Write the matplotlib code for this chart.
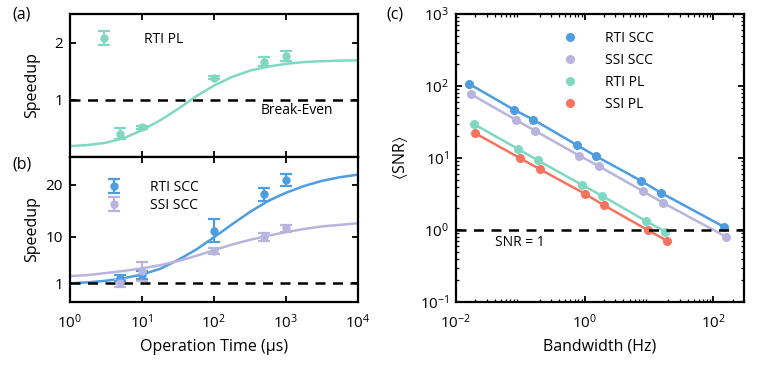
import matplotlib
matplotlib.use('Agg')
import matplotlib.pyplot as plt
from matplotlib.ticker import LogLocator, NullLocator, FixedLocator, NullFormatter

plt.rcParams['font.family'] = ['Open Sans', 'DejaVu Sans']
plt.rcParams['mathtext.fontset'] = 'custom'
plt.rcParams['mathtext.rm'] = 'Open Sans'
plt.rcParams['mathtext.it'] = 'Open Sans:italic'
plt.rcParams['mathtext.default'] = 'regular'

# colours
c_rti_scc = '#4d9de0'
c_ssi_scc = '#b9b4de'
c_rti_pl = '#80d8c3'
c_ssi_pl = '#f7735d'

# (a), (b): measured speedup vs operation time
t_op = [5, 10, 100, 500, 1000]
sp_rti_pl = [0.41, 0.52, 1.39, 1.665, 1.76]
err_rti_pl = [0.10, 0.03, 0.03, 0.08, 0.09]
sp_rti_scc = [2.1, 2.6, 11.2, 18.2, 21.0]
err_rti_scc = [0.6, 0.7, 2.2, 1.3, 1.2]
sp_ssi_scc = [1.0, 3.3, 7.3, 10.0, 11.6]
err_ssi_scc = [0.8, 1.9, 0.6, 0.8, 0.6]

# model curves
t_fit = [1, 1.78, 3.16, 5.62, 10, 17.8, 31.6, 56.2, 100, 178, 316, 562,
         1000, 1780, 3160, 5620, 10000]
fit_rti_pl = [0.19, 0.21, 0.25, 0.33, 0.47, 0.64, 0.84, 1.06, 1.25, 1.40,
              1.51, 1.58, 1.63, 1.66, 1.675, 1.685, 1.69]
fit_rti_scc = [1.0, 1.2, 1.5, 2.0, 2.7, 3.8, 5.5, 7.5, 9.9, 12.4, 14.8,
               16.9, 18.5, 19.8, 20.8, 21.5, 22.0]
fit_ssi_scc = [2.4, 2.6, 3.0, 3.4, 3.9, 4.5, 5.3, 6.3, 7.4, 8.5, 9.4, 10.2,
               10.9, 11.5, 12.0, 12.3, 12.6]

# (c): SNR vs bandwidth
bw_rti_scc = [0.016, 0.079, 0.16, 0.77, 1.5, 7.6, 15.2, 148]
snr_rti_scc = [107, 47, 34, 15, 10.6, 4.8, 3.3, 1.1]
bw_ssi_scc = [0.017, 0.0845, 0.168, 0.82, 1.66, 8.1, 16.3, 160]
snr_ssi_scc = [77, 34, 24, 10.8, 7.7, 3.45, 2.4, 0.8]
bw_rti_pl = [0.019, 0.093, 0.186, 0.92, 1.85, 9.0, 17.8]
snr_rti_pl = [29.6, 13.3, 9.3, 4.2, 3.0, 1.33, 0.95]
bw_ssi_pl = [0.020, 0.10, 0.20, 1.0, 2.0, 9.5, 19]
snr_ssi_pl = [22, 9.9, 7.0, 3.2, 2.2, 1.0, 0.71]

fig = plt.figure(figsize=(7.6, 3.69), dpi=100)
ax_a = fig.add_axes([0.0921, 0.5745, 0.3790, 0.3875])
ax_b = fig.add_axes([0.0921, 0.1816, 0.3790, 0.3929])
ax_c = fig.add_axes([0.6000, 0.1816, 0.3790, 0.7804])

lw_frame = 1.6
eb_kw = dict(fmt='o', ms=5, elinewidth=1.6, capsize=4, capthick=1.6)

def style(ax):
    for s in ax.spines.values():
        s.set_linewidth(lw_frame)
    ax.tick_params(which='both', direction='in', top=True, right=True,
                   labelsize=11)
    ax.tick_params(which='major', length=4, width=1.3)
    ax.tick_params(which='minor', length=2.2, width=0.9)
    ax.tick_params(axis='x', pad=8)
    ax.tick_params(axis='y', pad=5)

# panel (a)
ax_a.plot(t_fit, fit_rti_pl, color=c_rti_pl, lw=1.8)
ax_a.errorbar(t_op, sp_rti_pl, yerr=err_rti_pl, color=c_rti_pl,
              label='RTI PL', **eb_kw)
ax_a.axhline(1, color='black', lw=1.8, ls=(0, (4, 3)))
ax_a.set_xscale('log')
ax_a.set_xlim(1, 1e4)
ax_a.set_ylim(0, 2.5)
ax_a.xaxis.set_major_locator(FixedLocator([1, 10, 100, 1000, 10000]))
ax_a.xaxis.set_minor_locator(NullLocator())
ax_a.set_xticklabels([])
ax_a.set_yticks([1, 2])
ax_a.set_ylabel('Speedup', fontsize=11.5)
ax_a.yaxis.set_label_coords(-0.104, 0.5)
ax_a.text(440, 0.81, 'Break-Even', fontsize=10, va='center')
ax_a.legend(loc='upper left', bbox_to_anchor=(0.05, 0.96), frameon=False,
            fontsize=10, handlelength=1.0, handletextpad=2.4)
style(ax_a)

# panel (b)
ax_b.plot(t_fit, fit_rti_scc, color=c_rti_scc, lw=1.8)
ax_b.plot(t_fit, fit_ssi_scc, color=c_ssi_scc, lw=1.8)
ax_b.errorbar(t_op, sp_rti_scc, yerr=err_rti_scc, color=c_rti_scc,
              label='RTI SCC', **eb_kw)
ax_b.errorbar(t_op, sp_ssi_scc, yerr=err_ssi_scc, color=c_ssi_scc,
              label='SSI SCC', **eb_kw)
ax_b.axhline(1, color='black', lw=1.8, ls=(0, (4, 3)))
ax_b.set_xscale('log')
ax_b.set_xlim(1, 1e4)
ax_b.set_ylim(-2.6, 25.4)
ax_b.xaxis.set_major_locator(FixedLocator([1, 10, 100, 1000, 10000]))
ax_b.xaxis.set_minor_locator(NullLocator())
ax_b.set_yticks([1, 10, 20])
ax_b.set_ylabel('Speedup', fontsize=11.5)
ax_b.yaxis.set_label_coords(-0.104, 0.5)
ax_b.set_xlabel('Operation Time (\u03bcs)', fontsize=11.5)
ax_b.xaxis.set_label_coords(0.5, -0.255)
ax_b.legend(loc='upper left', bbox_to_anchor=(0.085, 0.93), frameon=False,
            fontsize=10, handlelength=1.0, handletextpad=2.1,
            labelspacing=0.25)
style(ax_b)

# panel (c)
ax_c.plot(bw_rti_scc, snr_rti_scc, '-', color=c_rti_scc, lw=1.8)
ax_c.plot(bw_ssi_scc, snr_ssi_scc, '-', color=c_ssi_scc, lw=1.8)
ax_c.plot(bw_rti_pl, snr_rti_pl, '-', color=c_rti_pl, lw=1.8)
ax_c.plot(bw_ssi_pl, snr_ssi_pl, '-', color=c_ssi_pl, lw=1.8)
ax_c.plot(bw_rti_scc, snr_rti_scc, 'o', color=c_rti_scc, ms=5.5, label='RTI SCC')
ax_c.plot(bw_ssi_scc, snr_ssi_scc, 'o', color=c_ssi_scc, ms=5.5, label='SSI SCC')
ax_c.plot(bw_rti_pl, snr_rti_pl, 'o', color=c_rti_pl, ms=5.5, label='RTI PL')
ax_c.plot(bw_ssi_pl, snr_ssi_pl, 'o', color=c_ssi_pl, ms=5.5, label='SSI PL')
ax_c.axhline(1, color='black', lw=1.8, ls=(0, (4, 3)))
ax_c.set_xscale('log')
ax_c.set_yscale('log')
ax_c.set_xlim(0.01, 300)
ax_c.set_ylim(0.1, 1000)
ax_c.xaxis.set_major_locator(FixedLocator([0.01, 1, 100]))
ax_c.xaxis.set_minor_locator(LogLocator(base=10, subs=range(2, 10)))
ax_c.xaxis.set_minor_formatter(NullFormatter())
ax_c.yaxis.set_major_locator(LogLocator(base=10, numticks=10))
ax_c.yaxis.set_minor_locator(LogLocator(base=10, subs=range(2, 10), numticks=10))
ax_c.yaxis.set_minor_formatter(NullFormatter())
ax_c.set_xlabel('Bandwidth (Hz)', fontsize=11.5)
ax_c.xaxis.set_label_coords(0.5, -0.128)
ax_c.set_ylabel(r'$\langle\mathrm{SNR}\rangle$', fontsize=11.5)
ax_c.yaxis.set_label_coords(-0.16, 0.5)
ax_c.text(0.04, 0.665, 'SNR = 1', fontsize=10, va='center')
ax_c.legend(loc='upper left', bbox_to_anchor=(0.33, 0.985), frameon=False,
            fontsize=10, handlelength=1.0, handletextpad=2.0,
            labelspacing=0.5, numpoints=1)
style(ax_c)

fig.text(0.016, 0.962, '(a)', fontsize=11.5, va='center')
fig.text(0.016, 0.553, '(b)', fontsize=11.5, va='center')
fig.text(0.508, 0.962, '(c)', fontsize=11.5, va='center')

fig.savefig('out.png', dpi=100)
